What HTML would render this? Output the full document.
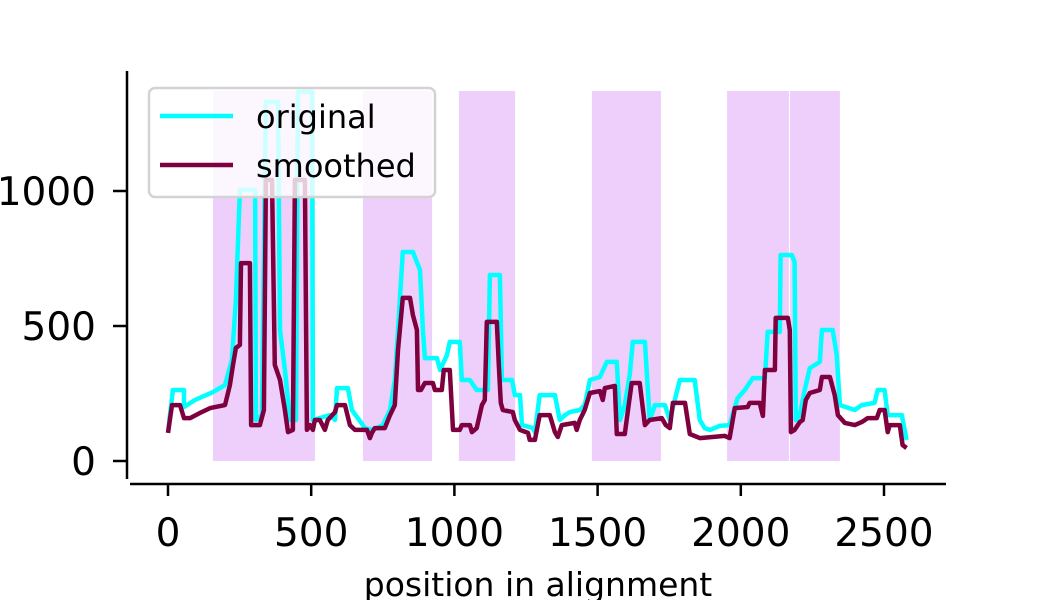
<!DOCTYPE html>
<html><head><meta charset="utf-8">
<style>
html,body{margin:0;padding:0;background:#fff;}
svg{display:block;font-family:"DejaVu Sans","Liberation Sans",sans-serif;}
</style></head>
<body>
<svg id="chart" width="1050" height="600" viewBox="0 0 1050 600" xmlns="http://www.w3.org/2000/svg">
<g id="spans"></g>
<g id="lines"></g>
<g id="axes"></g>
<g>
<rect x="149" y="88" width="286" height="109" rx="6" fill="#fff" fill-opacity="0.8" stroke="#d3d3d3" stroke-width="2.5"/>
<line x1="160" y1="116" x2="233" y2="116" stroke="#00ffff" stroke-width="4.5"/>
<text x="256" y="128" font-size="32">original</text>
<line x1="160" y1="165" x2="233" y2="165" stroke="#7f003f" stroke-width="4.5"/>
<text x="256" y="177" font-size="32">smoothed</text>
</g>
</svg>
<script>
const spanStarts = [157, 681, 1016, 1480, 1952, 2172];
const spanEnds   = [513, 922, 1212, 1721, 2168, 2346];
const xTicks = [0, 500, 1000, 1500, 2000, 2500];
const yTicks = [0, 500, 1000];
const origPos = [0,17,56,56,94,157,199,223,237,251,304,307,328,342,384,391,408,426,447,454,503,506,565,583,590,628,642,688,715,750,775,792,803,820,855,880,890,897,939,950,974,984,1019,1026,1054,1078,1117,1124,1159,1166,1201,1211,1229,1236,1274,1281,1298,1351,1368,1386,1403,1438,1455,1473,1508,1532,1567,1578,1595,1612,1623,1665,1682,1700,1735,1752,1787,1839,1857,1874,1892,1926,1961,1989,2014,2042,2084,2094,2136,2139,2178,2188,2192,2206,2223,2241,2276,2283,2321,2335,2346,2398,2422,2467,2478,2502,2513,2548,2562,2579];
const origVal = [107,263,263,200,226,255,281,374,596,1004,1004,152,170,1330,1330,485,337,152,152,1367,1367,152,170,152,270,270,189,122,115,133,189,300,485,774,774,707,485,381,381,337,393,441,441,300,300,263,263,689,689,300,300,244,244,133,122,107,244,244,152,170,181,189,207,300,311,367,367,152,207,319,441,441,152,207,207,152,300,300,152,122,115,130,133,233,263,307,307,478,478,763,763,737,152,170,263,344,367,485,485,393,207,189,207,215,263,263,170,170,170,78];
const smoothPos = [0,14,42,56,77,112,147,199,216,227,237,251,255,286,290,321,335,342,363,373,391,408,419,436,443,478,485,496,506,513,530,548,558,583,590,618,635,653,695,705,712,722,757,775,792,803,820,845,855,869,873,883,897,925,932,956,963,984,995,1019,1026,1054,1061,1078,1096,1106,1113,1148,1155,1162,1169,1204,1211,1229,1257,1263,1281,1298,1333,1351,1361,1375,1420,1427,1438,1455,1473,1508,1518,1525,1560,1567,1595,1606,1619,1647,1665,1682,1724,1738,1752,1763,1805,1822,1857,1944,1961,1979,2024,2031,2066,2077,2084,2119,2122,2164,2171,2175,2188,2206,2216,2227,2241,2276,2283,2311,2328,2339,2363,2398,2422,2443,2475,2485,2502,2513,2520,2555,2565,2579];
const smoothVal = [104,207,207,159,159,178,196,207,281,356,419,430,733,733,133,133,189,1041,1041,356,300,189,107,115,1041,1041,115,133,115,152,152,115,152,181,207,207,133,115,115,85,104,122,122,170,207,411,604,604,541,485,263,263,289,289,263,263,337,337,115,115,133,133,107,122,207,226,515,515,356,215,189,181,152,115,104,78,78,170,170,107,89,133,141,115,152,189,252,259,226,270,278,100,100,189,289,289,133,152,159,133,122,215,215,100,85,93,85,196,200,215,215,167,337,337,530,530,485,107,115,144,152,226,252,263,311,311,244,170,141,133,144,159,159,189,189,107,133,133,59,48];

const NS = 'http://www.w3.org/2000/svg';
function xs(v){ return 168 + v * 0.2864; }
function ys(v){ return 461 - v * 0.27; }
function mk(tag, attrs, parent){
  const el = document.createElementNS(NS, tag);
  for (const k in attrs) el.setAttribute(k, attrs[k]);
  parent.appendChild(el);
  return el;
}
const spansG = document.getElementById('spans');
for (let i = 0; i < spanStarts.length; i++) {
  const r = mk('rect', {x: xs(spanStarts[i]), y: 91, width: xs(spanEnds[i]) - xs(spanStarts[i]), height: 370, fill: '#eecffc'}, spansG);
  
  
}
const linesG = document.getElementById('lines');
function pts(p, v){ return p.map((x, i) => xs(x).toFixed(1) + ',' + ys(v[i]).toFixed(1)).join(' '); }
const l1 = mk('polyline', {points: pts(origPos, origVal), fill: 'none', stroke: '#00ffff', 'stroke-width': 4.5, 'stroke-linejoin': 'round'}, linesG);


const l2 = mk('polyline', {points: pts(smoothPos, smoothVal), fill: 'none', stroke: '#7f003f', 'stroke-width': 4.5, 'stroke-linejoin': 'round'}, linesG);



const ax = document.getElementById('axes');
const ls = mk('line', {x1: 127, y1: 71, x2: 127, y2: 479, stroke: '#000', 'stroke-width': 2.5}, ax);


const bs = mk('line', {x1: 130, y1: 484, x2: 946, y2: 484, stroke: '#000', 'stroke-width': 2.5}, ax);


xTicks.forEach(t => {
  const tk = mk('line', {x1: xs(t), y1: 484, x2: xs(t), y2: 496, stroke: '#000', 'stroke-width': 2.5}, ax);
  
  
  const tx = mk('text', {x: xs(t), y: 546, 'font-size': 39, 'text-anchor': 'middle'}, ax);
  tx.textContent = String(t);
  
  
});
yTicks.forEach(t => {
  const tk = mk('line', {x1: 113, y1: ys(t), x2: 127, y2: ys(t), stroke: '#000', 'stroke-width': 2.5}, ax);
  
  
  const tx = mk('text', {x: 96, y: ys(t) + 14, 'font-size': 39, 'text-anchor': 'end'}, ax);
  tx.textContent = String(t);
  
  
});
const xl = mk('text', {x: 538, y: 596, 'font-size': 33, 'text-anchor': 'middle'}, ax);
xl.textContent = 'position in alignment';


</script>
</body></html>
